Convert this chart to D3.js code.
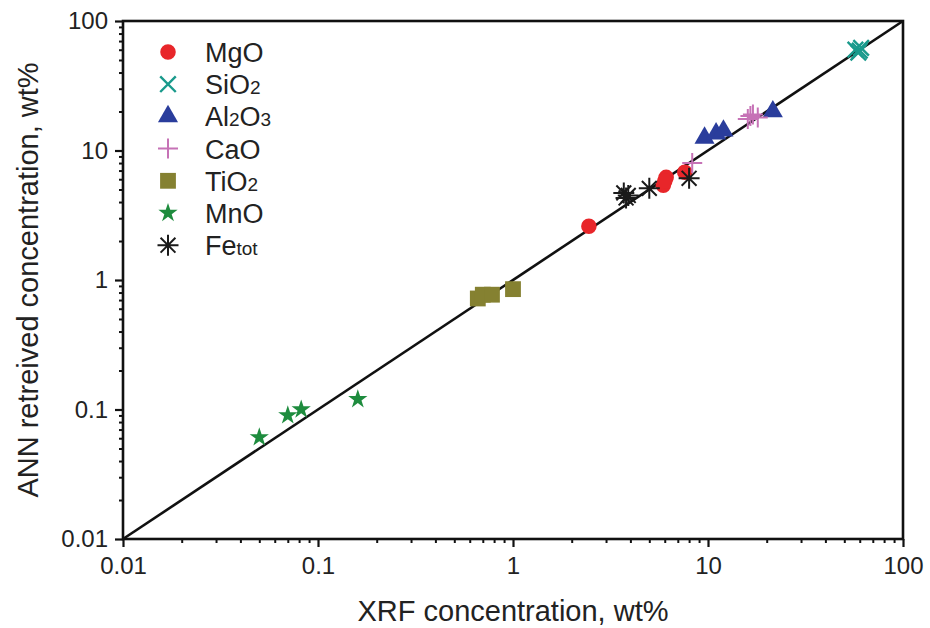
<!DOCTYPE html>
<html><head><meta charset="utf-8">
<script src="https://cdn.jsdelivr.net/npm/d3@7"></script>
<style>body{margin:0;background:#fff}svg{display:block}text{font-family:"Liberation Sans",Arial,sans-serif;fill:#222}</style>
</head><body><svg id="c" width="930" height="628"></svg>
<script>
const xTicks=[0.01,0.1,1,10,100];
const yTicks=[0.01,0.1,1,10,100];
const xTickLabels=["0.01","0.1","1","10","100"];
const yTickLabels=["0.01","0.1","1","10","100"];
const seriesNames=["MgO","SiO2","Al2O3","CaO","TiO2","MnO","Fetot"];
const seriesColors=["#e8262a","#1a9a8c","#2a3d9c","#c672b6","#858131","#1e8c3e","#1a1a1a"];
const mgo=[[2.45,2.6],[6.1,6.2],[5.9,5.4],[6.0,5.8],[7.6,6.8]];
const sio2=[[57,60],[59,57],[61,62],[60,59]];
const al2o3=[[9.6,12.5],[11,13.5],[12,14.2],[21.5,20]];
const cao=[[16,17.5],[17,19],[18,18],[16.5,18.5],[8.3,8.0]];
const tio2=[[0.66,0.72],[0.7,0.77],[0.78,0.77],[1.0,0.85]];
const mno=[[0.05,0.061],[0.07,0.09],[0.082,0.1],[0.16,0.12]];
const fetot=[[3.7,4.7],[3.8,4.3],[3.9,4.5],[5.0,5.1],[8.0,6.1]];
const series=[mgo,sio2,al2o3,cao,tio2,mno,fetot];

const svg=d3.select("#c");
const L=123,R=903,T=21,B=539;
const x=d3.scaleLog().domain([0.01,100]).range([L,R]);
const y=d3.scaleLog().domain([0.01,100]).range([B,T]);

function minor(){const a=[];for(let e=-2;e<2;e++)for(let k=2;k<=9;k++)a.push(k*Math.pow(10,e));return a;}
const minors=minor();

svg.append("g").attr("transform",`translate(0,${B})`)
 .call(d3.axisBottom(x).tickValues(minors).tickSize(4).tickFormat(""))
 .call(g=>{g.select(".domain").remove();g.selectAll("line").attr("stroke","#111").attr("stroke-width",2);});
svg.append("g").attr("transform",`translate(${L},0)`)
 .call(d3.axisLeft(y).tickValues(minors).tickSize(4).tickFormat(""))
 .call(g=>{g.select(".domain").remove();g.selectAll("line").attr("stroke","#111").attr("stroke-width",2);});
svg.append("g").attr("transform",`translate(0,${B})`)
 .call(d3.axisBottom(x).tickValues(xTicks).tickSize(8).tickPadding(10).tickFormat((d,i)=>xTickLabels[i]))
 .call(g=>{g.select(".domain").remove();g.selectAll("line").attr("stroke","#111").attr("stroke-width",2.2);
   g.selectAll("text").attr("font-size",24).attr("fill","#222").attr("font-family","Liberation Sans, Arial, sans-serif");});
svg.append("g").attr("transform",`translate(${L},0)`)
 .call(d3.axisLeft(y).tickValues(yTicks).tickSize(8).tickPadding(7).tickFormat((d,i)=>yTickLabels[i]))
 .call(g=>{g.select(".domain").remove();g.selectAll("line").attr("stroke","#111").attr("stroke-width",2.2);
   g.selectAll("text").attr("font-size",24).attr("fill","#222").attr("font-family","Liberation Sans, Arial, sans-serif");});

svg.append("rect").attr("x",L).attr("y",T).attr("width",R-L).attr("height",B-T)
 .attr("fill","none").attr("stroke","#111").attr("stroke-width",2.6);

svg.append("line").attr("x1",x(0.01)).attr("y1",y(0.01)).attr("x2",x(100)).attr("y2",y(100))
 .attr("stroke","#111").attr("stroke-width",2.6);

function lines(h,angles){return angles.map(a=>{const r=a*Math.PI/180,c=Math.cos(r)*h,s=Math.sin(r)*h;return `M${-c},${-s}L${c},${s}`;}).join("");}
const markers=[
 {type:"fill",path:d3.symbol(d3.symbolCircle,190)()},
 {type:"stroke",path:lines(11,[45,135]),w:2.4},
 {type:"fill",path:d3.symbol(d3.symbolTriangle,175)()},
 {type:"stroke",path:lines(10,[0,90]),w:2},
 {type:"fill",path:d3.symbol(d3.symbolSquare,250)()},
 {type:"fill",path:d3.symbol(d3.symbolStar,115)()},
 {type:"stroke",path:lines(10.5,[0,45,90,135]),w:2}
];
function drawMarker(g,i){
 const m=markers[i];
 if(m.type==="fill") g.append("path").attr("d",m.path).attr("fill",seriesColors[i]);
 else g.append("path").attr("d",m.path).attr("fill","none").attr("stroke",seriesColors[i]).attr("stroke-width",m.w);
}
series.forEach((s,i)=>{
 const g=svg.append("g");
 s.forEach(p=>{const mg=g.append("g").attr("transform",`translate(${x(p[0])},${y(p[1])})`);drawMarker(mg,i);});
});

const legendParts=[[["MgO",0]],[["SiO",0],["2",1]],[["Al",0],["2",1],["O",0],["3",1]],[["CaO",0]],[["TiO",0],["2",1]],[["MnO",0]],[["Fe",0],["tot",1]]];
legendParts.forEach((parts,i)=>{
 const cy=52+i*32.2;
 const mg=svg.append("g").attr("transform",`translate(168,${cy})`);drawMarker(mg,i);
 const t=svg.append("text").attr("x",205).attr("y",cy+10).attr("font-size",27);
 parts.forEach(p=>t.append("tspan").text(p[0]).attr("font-size",p[1]?19:27));
});

svg.append("text").attr("x",(L+R)/2).attr("y",621).attr("text-anchor","middle").attr("font-size",29)
 .text("XRF concentration, wt%");
svg.append("text").attr("transform","translate(38,280) rotate(-90)").attr("text-anchor","middle").attr("font-size",29)
 .text("ANN retreived concentration, wt%");
</script></body></html>
